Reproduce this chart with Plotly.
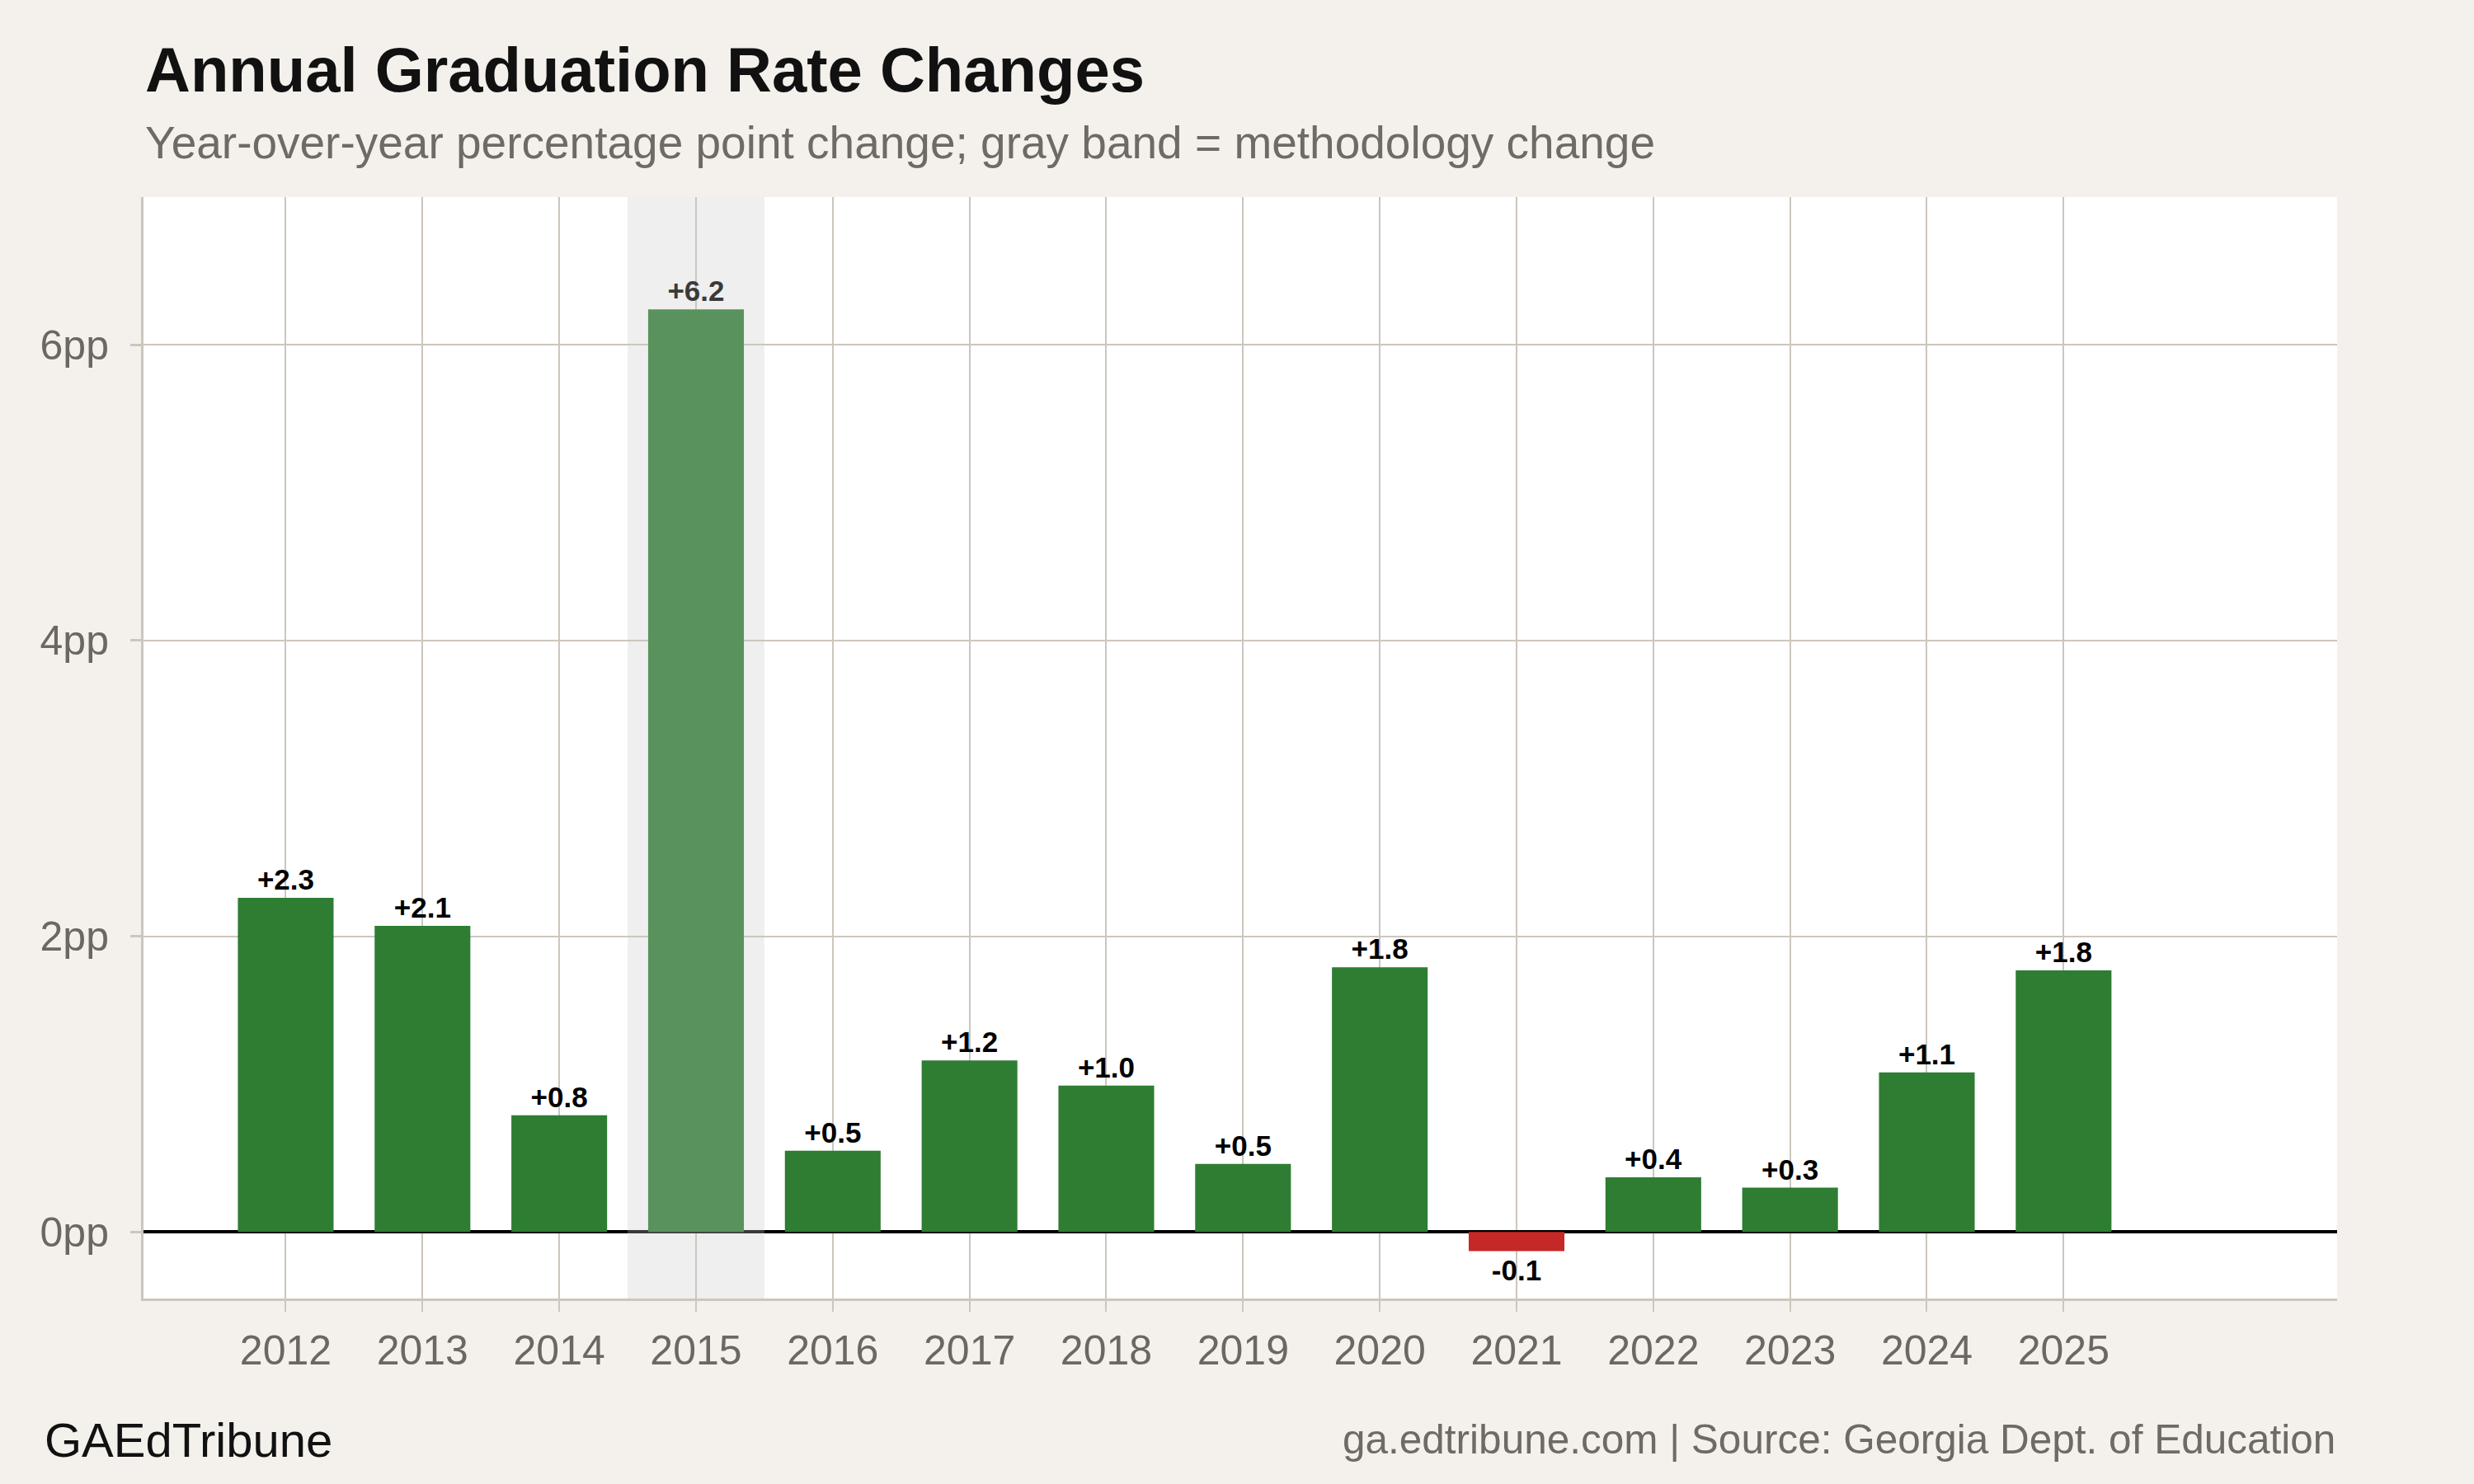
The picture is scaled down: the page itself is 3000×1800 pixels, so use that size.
import plotly.graph_objects as go

years = [2012, 2013, 2014, 2015, 2016, 2017, 2018, 2019, 2020, 2021, 2022, 2023, 2024, 2025]
changes = [2.26, 2.07, 0.79, 6.24, 0.55, 1.16, 0.99, 0.46, 1.79, -0.13, 0.37, 0.30, 1.08, 1.77]
labels = ["+2.3", "+2.1", "+0.8", "+6.2", "+0.5", "+1.2", "+1.0", "+0.5", "+1.8", "-0.1", "+0.4", "+0.3", "+1.1", "+1.8"]
method_change_year = 2015
y_ticks = [0, 2, 4, 6]
y_tick_text = ["0pp", "2pp", "4pp", "6pp"]

POS = "#2e7d32"
NEG = "#c62828"
GRID = "#cdc6bc"
BG = "#f4f1ec"
TICKC = "#6b6763"
FONT = "Liberation Sans"

colors = [POS if v >= 0 else NEG for v in changes]

fig = go.Figure()
fig.add_trace(go.Bar(
    x=years, y=changes, width=0.7,
    marker=dict(color=colors, line=dict(width=0)),
    text=labels, texttemplate="%{text}", textposition="outside",
    outsidetextfont=dict(family=FONT, size=35, color="#000000", weight="bold"),
    cliponaxis=False, hoverinfo="skip", showlegend=False,
))

fig.add_shape(type="rect", xref="x", yref="paper",
              x0=method_change_year - 0.5, x1=method_change_year + 0.5, y0=0, y1=1,
              fillcolor="rgba(200,200,200,0.29)", line=dict(width=0), layer="above")

fig.update_layout(
    width=3000, height=1800,
    paper_bgcolor=BG, plot_bgcolor="#ffffff",
    margin=dict(l=174, r=166, t=239, b=225),
    font=dict(family=FONT, color=TICKC),
    annotations=[
        dict(text="<b>Annual Graduation Rate Changes</b>", xref="paper", yref="paper",
             x=0, y=1.116, xanchor="left", yanchor="middle", showarrow=False,
             font=dict(family=FONT, size=76, color="#111111")),
        dict(text="Year-over-year percentage point change; gray band = methodology change",
             xref="paper", yref="paper", x=0, y=1.0495, xanchor="left", yanchor="middle",
             showarrow=False, font=dict(family=FONT, size=55, color="#6e6a65")),
        dict(text="GAEdTribune", xref="paper", yref="paper", x=-0.0459, y=-0.128,
             xanchor="left", yanchor="middle", showarrow=False,
             font=dict(family=FONT, size=58, color="#111111")),
        dict(text="ga.edtribune.com | Source: Georgia Dept. of Education", xref="paper",
             yref="paper", x=1, y=-0.1275, xanchor="right", yanchor="middle",
             showarrow=False, font=dict(family=FONT, size=49.5, color="#6e6a65")),
    ],
)

fig.update_xaxes(
    range=[2010.96, 2027], tickvals=years, ticktext=[str(y) for y in years],
    showgrid=True, gridcolor=GRID, gridwidth=2,
    showline=True, linecolor=GRID, linewidth=3,
    ticks="outside", ticklen=13, tickwidth=2, tickcolor=GRID, ticklabelstandoff=4,
    tickfont=dict(family=FONT, size=50, color=TICKC), zeroline=False,
)
fig.update_yaxes(
    range=[-0.45, 7.0], tickvals=y_ticks, ticktext=y_tick_text,
    showgrid=True, gridcolor=GRID, gridwidth=2,
    showline=True, linecolor=GRID, linewidth=3,
    ticks="outside", ticklen=13, tickwidth=3, tickcolor=GRID, ticklabelstandoff=16,
    tickfont=dict(family=FONT, size=50, color=TICKC),
    zeroline=True, zerolinecolor="#000000", zerolinewidth=4,
)

fig.write_html("out.html", config={"displayModeBar": False},
               post_script="document.body.style.margin='0';document.body.style.background='#f4f1ec';")
